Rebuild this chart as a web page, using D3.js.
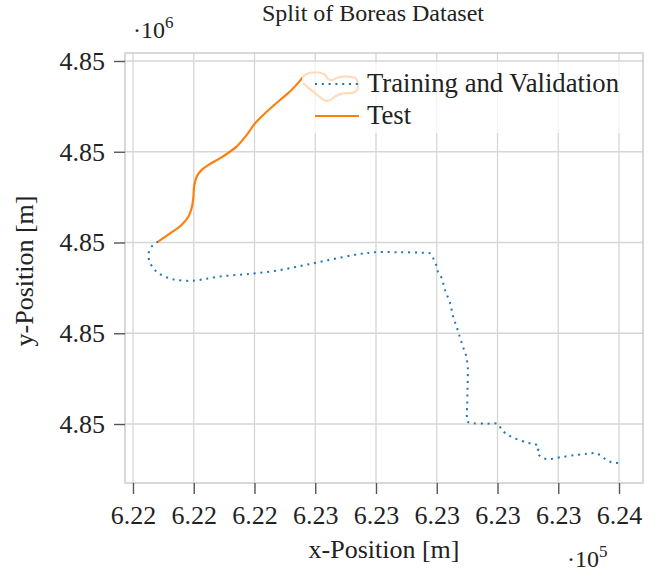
<!DOCTYPE html>
<html><head><meta charset="utf-8">
<script src="https://cdn.jsdelivr.net/npm/d3@7"></script>
<style>html,body{margin:0;padding:0;background:#fff;} svg{display:block;}</style>
</head><body>
<svg id="chart" width="668" height="573"></svg>
<script>
// ---- data (UTM metres) ----
const xTicks = [622000, 622200, 622400, 622600, 622800, 623000, 623200, 623400, 623600];
const xTickLabels = ["6.22","6.22","6.22","6.23","6.23","6.23","6.23","6.23","6.24"];
const yTicks = [4849800, 4850100, 4850400, 4850700, 4851000];
const yTickLabels = ["4.85","4.85","4.85","4.85","4.85"];
const seriesNames = ["Training and Validation", "Test"];

const trainX = [622083,622072,622059,622051,622054,622066,622082,622099,622122,622145,622188,622230,622280,622346,622412,622484,622550,622616,622682,622747,622797,622869,622955,622978,622988,622998,623004,623016,623027,623044,623054,623067,623077,623086,623096,623102,623102,623101,623100,623099,623101,623119,623164,623202,623214,623235,623263,623300,623323,623337,623330,623340,623362,623406,623461,623498,623527,623543,623560,623580,623603];
const trainY = [4850403,4850397,4850383,4850362,4850339,4850316,4850300,4850290,4850281,4850276,4850273,4850278,4850287,4850293,4850299,4850309,4850322,4850336,4850350,4850362,4850368,4850368,4850366,4850364,4850349,4850326,4850303,4850283,4850243,4850200,4850155,4850117,4850084,4850056,4850028,4849989,4849945,4849902,4849857,4849824,4849808,4849803,4849801,4849800,4849780,4849764,4849750,4849738,4849734,4849722,4849707,4849694,4849684,4849690,4849698,4849702,4849703,4849692,4849681,4849672,4849672];

const testX = [622083,622122,622160,622182,622193,622199,622201,622210,622226,622248,622286,622319,622341,622374,622402,622440,622484,622522,622550,622566,622589,622616,622632,622642,622655,622672,622695,622714,622734,622741,622737,622724,622691,622668,622649,622635,622619,622599,622573,622560];
const testY = [4850403,4850430,4850458,4850485,4850513,4850551,4850584,4850618,4850640,4850656,4850678,4850700,4850717,4850755,4850794,4850832,4850871,4850904,4850935,4850954,4850962,4850961,4850954,4850940,4850937,4850944,4850949,4850948,4850942,4850924,4850904,4850895,4850893,4850884,4850871,4850868,4850878,4850894,4850915,4850927];

const colors = ["#1f77b4", "#ff7f0e"];

// ---- layout ----
const plot = {left:125, right:643, top:53, bottom:483};
const svg = d3.select("#chart");
const serif = "'Liberation Serif','DejaVu Serif',serif";
const textCol = "#222";

const x = d3.scaleLinear().domain([621973.7, 623679]).range([plot.left, plot.right]);
const y = d3.scaleLinear().domain([4849605, 4851026.4]).range([plot.bottom, plot.top]);

// grid
const g = svg.append("g");
g.selectAll("line.gx").data(xTicks).join("line")
  .attr("x1", d=>x(d)).attr("x2", d=>x(d)).attr("y1", plot.top).attr("y2", plot.bottom)
  .attr("stroke", "#d6d6d6").attr("stroke-width", 1.3);
g.selectAll("line.gy").data(yTicks).join("line")
  .attr("y1", d=>y(d)).attr("y2", d=>y(d)).attr("x1", plot.left).attr("x2", plot.right)
  .attr("stroke", "#d6d6d6").attr("stroke-width", 1.3);

// frame
svg.append("rect").attr("x", plot.left).attr("y", plot.top)
  .attr("width", plot.right-plot.left).attr("height", plot.bottom-plot.top)
  .attr("fill", "none").attr("stroke", "#c4c4c4").attr("stroke-width", 1.3);

// axes
const xAxis = d3.axisBottom(x).tickValues(xTicks).tickSize(11).tickPadding(12)
  .tickFormat((d,i)=>xTickLabels[i]);
const gx = svg.append("g").attr("transform", `translate(0,${plot.bottom})`).call(xAxis);
const yAxis = d3.axisLeft(y).tickValues(yTicks).tickSize(11).tickPadding(9)
  .tickFormat((d,i)=>yTickLabels[i]);
const gy = svg.append("g").attr("transform", `translate(${plot.left},0)`).call(yAxis);
[gx, gy].forEach(a=>{
  a.select(".domain").remove();
  a.selectAll(".tick line").attr("stroke", "#555").attr("stroke-width", 1.4);
  a.selectAll(".tick text").attr("font-family", serif).attr("font-size", 26).attr("fill", textCol);
});

// lines
const line = d3.line().x(d=>x(d[0])).y(d=>y(d[1])).curve(d3.curveCatmullRom);
const trainPts = trainX.map((v,i)=>[v, trainY[i]]);
const testPts = testX.map((v,i)=>[v, testY[i]]);
svg.append("path").attr("d", line(trainPts)).attr("fill","none")
  .attr("stroke", colors[0]).attr("stroke-width", 2).attr("stroke-dasharray", "2 4.8");
svg.append("path").attr("d", line(testPts)).attr("fill","none")
  .attr("stroke", colors[1]).attr("stroke-width", 2.2).attr("stroke-linejoin","round");

// legend
const leg = svg.append("g");
leg.append("rect").attr("x", 302).attr("y", 62).attr("width", 331).attr("height", 71)
  .attr("fill", "#fff").attr("fill-opacity", 0.72);
seriesNames.forEach((name,i)=>{
  const cy = 84 + i*32;
  leg.append("line").attr("x1", 315).attr("x2", 359).attr("y1", cy).attr("y2", cy)
    .attr("stroke", colors[i]).attr("stroke-width", 2)
    .attr("stroke-dasharray", i===0?"2 4.8":null);
  leg.append("text").attr("x", 367).attr("y", cy+8).text(name)
    .attr("font-family", serif).attr("font-size", 26.7).attr("fill", textCol);
});

// titles and labels
svg.append("text").attr("x", 373).attr("y", 21).attr("text-anchor","middle")
  .attr("font-family", serif).attr("font-size", 24).attr("fill", textCol).text("Split of Boreas Dataset");
svg.append("text").attr("x", (plot.left+plot.right)/2).attr("y", 558).attr("text-anchor","middle")
  .attr("font-family", serif).attr("font-size", 26).attr("fill", textCol).text("x-Position [m]");
svg.append("text").attr("transform", `translate(33,${(plot.top+plot.bottom)/2+3}) rotate(-90)`).attr("text-anchor","middle")
  .attr("font-family", serif).attr("font-size", 26).attr("fill", textCol).text("y-Position [m]");

function expo(xp, yp, e){
  const t = svg.append("text").attr("x", xp).attr("y", yp)
    .attr("font-family", serif).attr("font-size", 24).attr("fill", textCol);
  t.append("tspan").text("·10");
  t.append("tspan").attr("dy", -10).attr("font-size", 17).text(e);
}
expo(133, 38, "6");
expo(567, 567, "5");
</script>
</body></html>
